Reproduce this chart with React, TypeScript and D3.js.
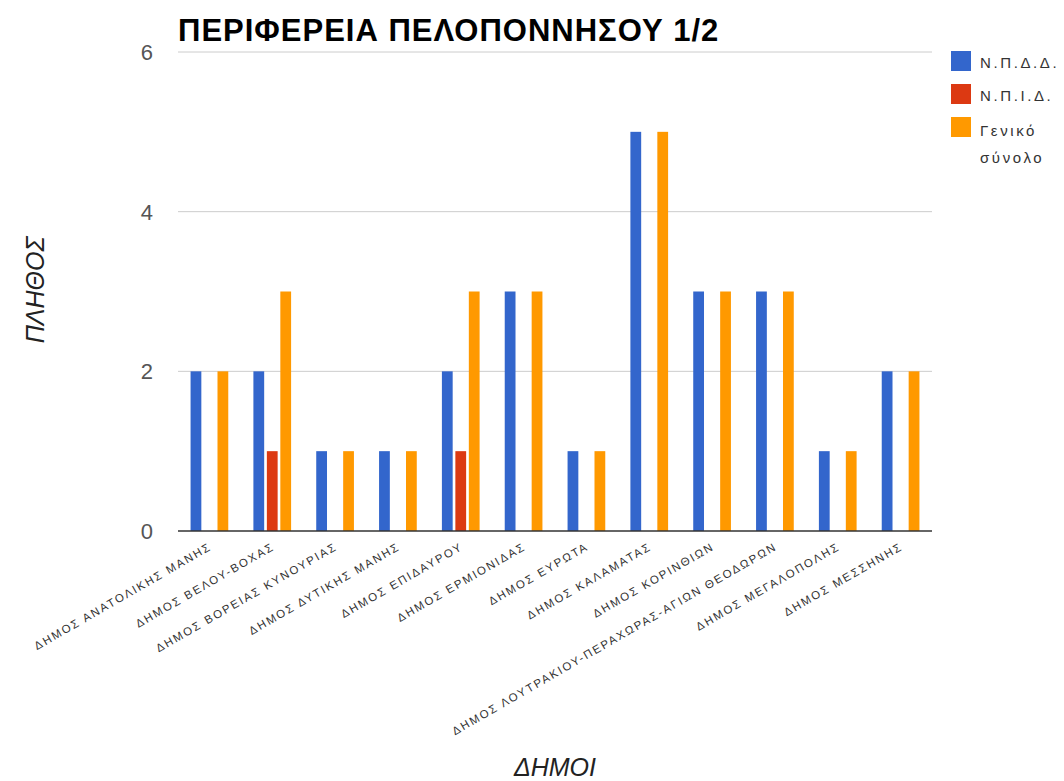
import React from "react";
import * as d3 from "d3";

const categories = [
  "ΔΗΜΟΣ ΑΝΑΤΟΛΙΚΗΣ ΜΑΝΗΣ",
  "ΔΗΜΟΣ ΒΕΛΟΥ-ΒΟΧΑΣ",
  "ΔΗΜΟΣ ΒΟΡΕΙΑΣ ΚΥΝΟΥΡΙΑΣ",
  "ΔΗΜΟΣ ΔΥΤΙΚΗΣ ΜΑΝΗΣ",
  "ΔΗΜΟΣ ΕΠΙΔΑΥΡΟΥ",
  "ΔΗΜΟΣ ΕΡΜΙΟΝΙΔΑΣ",
  "ΔΗΜΟΣ ΕΥΡΩΤΑ",
  "ΔΗΜΟΣ ΚΑΛΑΜΑΤΑΣ",
  "ΔΗΜΟΣ ΚΟΡΙΝΘΙΩΝ",
  "ΔΗΜΟΣ ΛΟΥΤΡΑΚΙΟΥ-ΠΕΡΑΧΩΡΑΣ-ΑΓΙΩΝ ΘΕΟΔΩΡΩΝ",
  "ΔΗΜΟΣ ΜΕΓΑΛΟΠΟΛΗΣ",
  "ΔΗΜΟΣ ΜΕΣΣΗΝΗΣ",
];
const seriesNames = ["Ν.Π.Δ.Δ.", "Ν.Π.Ι.Δ.", "Γενικό σύνολο"];
const npdd = [2, 2, 1, 1, 2, 3, 1, 5, 3, 3, 1, 2];
const npid = [0, 1, 0, 0, 1, 0, 0, 0, 0, 0, 0, 0];
const total = [2, 3, 1, 1, 3, 3, 1, 5, 3, 3, 1, 2];
const yTicks = [0, 2, 4, 6];
const colors = ["#3366cc", "#dc3912", "#ff9900"];

export default function App() {
  const W = 1064, H = 781;
  const left = 178, right = 932, top = 52, bottom = 531;
  const series = [npdd, npid, total];
  const x = d3.scaleBand<string>().domain(categories).range([left, right]).paddingInner(0.4).paddingOuter(0.2);
  const xs = d3.scaleBand<number>().domain([0, 1, 2]).range([0, x.bandwidth()]).paddingInner(0.2);
  const y = d3.scaleLinear().domain([0, 6]).range([bottom, top]);
  const font = "'Liberation Sans', Arial, sans-serif";
  return (
    <svg width={W} height={H} style={{ position: "absolute", left: 0, top: 0, background: "#fff" }} fontFamily={font}>
      <text x={178} y={41} fontSize={31} fontWeight="bold" letterSpacing={1} fill="#000">ΠΕΡΙΦΕΡΕΙΑ ΠΕΛΟΠΟΝΝΗΣΟΥ 1/2</text>
      {yTicks.map((t) => (
        <g key={t}>
          {t !== 0 && <line x1={left} x2={right} y1={y(t)} y2={y(t)} stroke="#cccccc" strokeWidth={1} />}
          <text x={153} y={y(t)} dy="0.36em" textAnchor="end" fontSize={22} fill="#555">{t}</text>
        </g>
      ))}
      {categories.map((c, i) =>
        series.map((s, j) =>
          s[i] > 0 ? (
            <rect key={c + j} x={(x(c) as number) + (xs(j) as number)} y={y(s[i])} width={xs.bandwidth()} height={bottom - y(s[i])} fill={colors[j]} />
          ) : null
        )
      )}
      <line x1={left} x2={right} y1={bottom} y2={bottom} stroke="#333" strokeWidth={1.5} />
      {categories.map((c) => {
        const cx = (x(c) as number) + x.bandwidth() / 2 + 3;
        return (
          <text key={c} transform={`translate(${cx},${bottom + 18}) rotate(-30)`} textAnchor="end" fontSize={11.5} letterSpacing={1.9} fill="#333">{c}</text>
        );
      })}
      <text transform={`translate(44,290) rotate(-90)`} textAnchor="middle" fontSize={25} fontStyle="italic" fill="#222">ΠΛΗΘΟΣ</text>
      <text x={555} y={776} textAnchor="middle" fontSize={25} fontStyle="italic" fill="#222">ΔΗΜΟΙ</text>
      {seriesNames.map((n, j) => {
        const yy = [51, 84, 117][j];
        return (
          <g key={n}>
            <rect x={951} y={yy} width={20} height={20} fill={colors[j]} />
            {j < 2 ? (
              <text x={980} y={yy + 17} fontSize={15} letterSpacing={2.6} fill="#333">{n}</text>
            ) : (
              <text x={980} y={yy + 19} fontSize={15} letterSpacing={2.6} fill="#333">
                <tspan x={980}>Γενικό</tspan>
                <tspan x={980} dy={27}>σύνολο</tspan>
              </text>
            )}
          </g>
        );
      })}
    </svg>
  );
}
